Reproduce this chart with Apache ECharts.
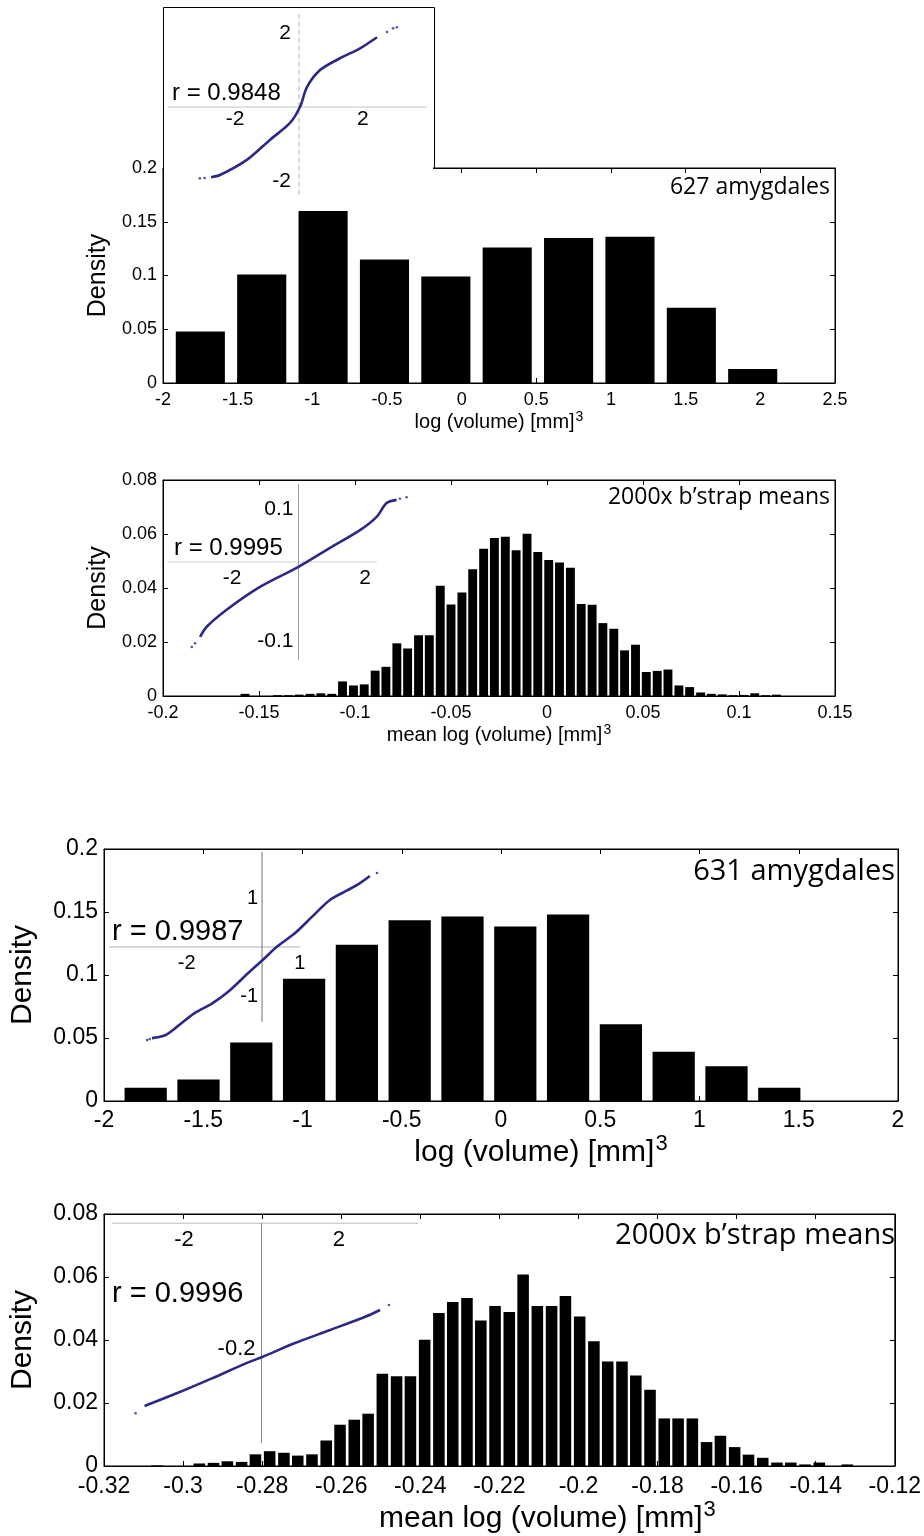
<!DOCTYPE html>
<html><head><meta charset="utf-8">
<script src="https://cdn.jsdelivr.net/npm/echarts@6/dist/echarts.min.js"></script>
<style>html,body{margin:0;padding:0;background:#fff}#c{width:924px;height:1536px}</style>
</head><body><div id="c"></div>
<script>
// ---------------- DATA ----------------
// Panel 1: 627 amygdales, log(volume) histogram
const p1Centers = [-1.75,-1.339,-0.928,-0.517,-0.106,0.305,0.716,1.127,1.538,1.949];
const p1Density = [0.048,0.101,0.160,0.115,0.099,0.126,0.135,0.136,0.070,0.013];
const p1BinWidth = 0.411;
// Panel 2: bootstrap means (627)
const p2Centers = [-0.1573,-0.1517,-0.1460,-0.1404,-0.1347,-0.1291,-0.1234,-0.1178,-0.1121,-0.1065,
  -0.1008,-0.0952,-0.0895,-0.0839,-0.0782,-0.0726,-0.0669,-0.0613,-0.0556,-0.0500,
  -0.0443,-0.0387,-0.0330,-0.0274,-0.0217,-0.0161,-0.0104,-0.0048,0.0009,0.0065,
  0.0122,0.0178,0.0235,0.0291,0.0348,0.0404,0.0461,0.0517,0.0574,0.0630,
  0.0687,0.0743,0.0800,0.0856,0.0913,0.0969,0.1026,0.1082,0.1139,0.1195];
const p2Density = [0.0008,0,0,0.0003,0.0003,0.0005,0.0008,0.001,0.0008,0.0054,
  0.0039,0.0043,0.0094,0.0108,0.0195,0.0176,0.0225,0.0225,0.0408,0.0339,
  0.0383,0.0469,0.0545,0.0585,0.059,0.054,0.0601,0.0533,0.0504,0.0494,
  0.0475,0.0341,0.0338,0.027,0.0249,0.0169,0.019,0.0089,0.0093,0.0098,
  0.0039,0.0033,0.0013,0.0008,0.0006,0.0003,0.0004,0.001,0.0003,0.0005];
const p2BinWidth = 0.00565;
// Panel 3: 631 amygdales
const p3Centers = [-1.79,-1.524,-1.258,-0.992,-0.726,-0.46,-0.194,0.072,0.338,0.604,0.87,1.136,1.402];
const p3Density = [0.0105,0.017,0.0465,0.097,0.124,0.1435,0.1465,0.1385,0.148,0.061,0.039,0.0275,0.0105];
const p3BinWidth = 0.266;
// Panel 4: bootstrap means (631)
const p4Centers = [-0.3066,-0.3030,-0.2995,-0.2959,-0.2923,-0.2888,-0.2852,-0.2817,-0.2781,-0.2745,
  -0.2710,-0.2674,-0.2638,-0.2603,-0.2567,-0.2532,-0.2496,-0.2460,-0.2425,-0.2389,
  -0.2353,-0.2318,-0.2282,-0.2247,-0.2211,-0.2175,-0.2140,-0.2104,-0.2068,-0.2033,
  -0.1997,-0.1961,-0.1926,-0.1890,-0.1855,-0.1819,-0.1783,-0.1748,-0.1712,-0.1676,
  -0.1641,-0.1605,-0.1570,-0.1534,-0.1498,-0.1463,-0.1427,-0.1391,-0.1356,-0.1320];
const p4Density = [0.0002,0,0,0.0008,0.001,0.0015,0.0013,0.0037,0.0047,0.0042,
  0.0033,0.0037,0.0081,0.0131,0.0147,0.0166,0.0293,0.0285,0.0285,0.0401,
  0.0486,0.0521,0.0533,0.0462,0.0508,0.0489,0.0608,0.0508,0.0508,0.054,
  0.0475,0.0396,0.0332,0.0332,0.0287,0.0242,0.0151,0.0151,0.0151,0.0076,
  0.0096,0.006,0.0036,0.0026,0.0011,0.0011,0.0005,0.0011,0,0.0005];
const p4BinWidth = 0.003563;

// Normal probability (Q-Q) insets: [normal quantile, sample value]
const qq1Line = [[-2.75,-1.90],[-2.47,-1.84],[-1.63,-1.43],[-0.91,-0.89],[-0.28,-0.43],[0.03,0.0],[0.25,0.54],[0.66,1.0],[1.28,1.32],[1.91,1.59],[2.44,1.89]];
const qq1Tail = [[-3.1,-1.93],[-2.95,-1.92],[2.75,2.03],[2.94,2.13],[3.06,2.16]];
const qq2Line = [[-2.96,-0.141],[-2.76,-0.122],[-2.16,-0.090],[-1.16,-0.047],[0.0,-0.009],[0.85,0.023],[1.85,0.060],[2.35,0.085],[2.65,0.111],[2.95,0.117]];
const qq2Tail = [[-3.21,-0.160],[-3.11,-0.153],[3.05,0.119],[3.25,0.122]];
const qq3Line = [[-2.92,-1.86],[-2.57,-1.80],[-2.26,-1.63],[-1.79,-1.35],[-1.32,-1.15],[-0.85,-0.88],[-0.38,-0.54],[0.01,-0.27],[0.40,0.01],[0.87,0.28],[1.33,0.62],[1.80,0.96],[2.27,1.16],[2.59,1.30],[2.86,1.45]];
const qq3Tail = [[-3.05,-1.90],[-2.98,-1.88],[3.05,1.51]];
const qq4Line = [[-3.02,-0.2911],[-2.19,-0.2709],[-1.28,-0.2471],[-0.36,-0.2222],[0.02,-0.2131],[0.85,-0.1914],[1.77,-0.1702],[2.68,-0.1491],[3.06,-0.1384]];
const qq4Tail = [[-3.25,-0.3027],[3.29,-0.1305]];

// Inset tick labels
const qq1XLabels = [-2, 2], qq1YLabels = [-2, 2];
const qq2XLabels = [-2, 2], qq2YLabels = [-0.1, 0.1];
const qq3XLabels = [-2, 1], qq3YLabels = [-1, 1];
const qq4XLabels = [-2, 2], qq4YLabels = [-0.2];

// Texts
const p1Note = '627 amygdales', p2Note = '2000x b\u2019strap means';
const p3Note = '631 amygdales', p4Note = '2000x b\u2019strap means';
const p1R = 'r = 0.9848', p2R = 'r = 0.9995', p3R = 'r = 0.9987', p4R = 'r = 0.9996';
const yName = 'Density';
const xName1 = 'log (volume) [mm]', xName2 = 'mean log (volume) [mm]', xSup = '3';

// ---------------- BUILD ----------------
const ARIAL = '"Liberation Sans", Arial, Helvetica, sans-serif';
const MYRIAD = '"Open Sans", "Noto Sans", sans-serif';
const QQ_COLOR = '#2a2a86';
const option = {animation:false, backgroundColor:'#fff', grid:[], xAxis:[], yAxis:[], series:[], title:[], graphic:[]};

function histItem(w){
  return function(params, api){
    const x = api.value(0), y = api.value(1);
    const a = api.coord([x - w/2, y]);
    const b = api.coord([x + w/2, 0]);
    return {type:'rect', shape:{x:a[0], y:a[1], width:b[0]-a[0], height:b[1]-a[1]}, style:{fill:'#000'}};
  };
}

function addPanel(c){
  const g = option.grid.length;
  option.grid.push({left:c.left, top:c.top, width:c.width, height:c.height, show:true, borderColor:'#000', borderWidth:1, z:0});
  const xi = option.xAxis.length, yi = option.yAxis.length;
  const tick = {inside:true, length:5, lineStyle:{color:'#000', width:1}};
  const line = {show:true, onZero:false, lineStyle:{color:'#000', width:1}};
  option.xAxis.push({gridIndex:g, type:'value', min:c.xMin, max:c.xMax, interval:c.xInt, position:'bottom',
    axisLine:line, axisTick:tick, splitLine:{show:false},
    axisLabel:{fontFamily:c.tickFont, fontSize:c.tickSize, color:'#000', margin:c.xMargin},
    name:'{b|'+c.xName+'}{s|'+xSup+'}', nameLocation:'middle', nameGap:c.xNameGap,
    nameTextStyle:{padding:c.xNamePad||0, rich:{b:{fontFamily:ARIAL, fontSize:c.xNameSize, color:'#000'},
      s:{fontFamily:ARIAL, fontSize:Math.round(c.xNameSize*0.72), color:'#000', padding:[0,0,Math.round(c.xNameSize*0.55),1]}}}});
  option.xAxis.push({gridIndex:g, type:'value', min:c.xMin, max:c.xMax, interval:c.xInt, position:'top',
    axisLine:line, axisTick:tick, axisLabel:{show:false}, splitLine:{show:false}});
  option.yAxis.push({gridIndex:g, type:'value', min:0, max:c.yMax, interval:c.yInt, position:'left',
    axisLine:line, axisTick:tick, splitLine:{show:false},
    axisLabel:{fontFamily:c.tickFont, fontSize:c.tickSize, color:'#000', margin:c.yMargin},
    name:yName, nameLocation:'middle', nameRotate:90, nameGap:c.yNameGap,
    nameTextStyle:{fontFamily:ARIAL, fontSize:c.yNameSize, color:'#000'}});
  option.yAxis.push({gridIndex:g, type:'value', min:0, max:c.yMax, interval:c.yInt, position:'right',
    axisLine:line, axisTick:tick, axisLabel:{show:false}, splitLine:{show:false}});
  option.series.push({type:'custom', xAxisIndex:xi, yAxisIndex:yi, renderItem:histItem(c.binW*c.barFrac),
    encode:{x:0, y:1}, data:c.centers.map((v,i)=>[v, c.density[i]]), z:2, clip:false});
}

function addInset(c){
  const g = option.grid.length;
  option.grid.push({left:c.left, top:c.top, width:c.width, height:c.height, show:!!c.bg,
    backgroundColor:c.bg||'transparent', borderWidth:0, z:1});
  const xi = option.xAxis.length, yi = option.yAxis.length;
  // place label rows on the zero lines of the inset
  const zeroY = c.top + c.height * c.yMax / (c.yMax - c.yMin);
  const zeroX = c.left + c.width * (-c.xMin) / (c.xMax - c.xMin);
  const yLab = {customValues:c.yLabels, fontFamily:ARIAL, fontSize:c.fs, color:'#000', margin:c.yMargin};
  if (c.negLabelDrop) {
    yLab.formatter = v => (v < 0 ? '{d|' + v + '}' : String(v));
    yLab.rich = {d:{fontFamily:ARIAL, fontSize:c.fs, color:'#000', padding:[c.negLabelDrop*2,0,0,0]}};
  }
  option.xAxis.push({gridIndex:g, type:'value', min:c.xMin, max:c.xMax, position:'bottom', z:3,
    offset: zeroY - (c.top + c.height),
    axisLine:{show:false, onZero:false}, axisTick:{show:false}, splitLine:{show:false},
    axisLabel:{customValues:c.xLabels, fontFamily:ARIAL, fontSize:c.fs, color:'#000', margin:c.xMargin}});
  option.yAxis.push({gridIndex:g, type:'value', min:c.yMin, max:c.yMax, position:'left', z:3,
    offset: c.left - zeroX,
    axisLine:{show:false, onZero:false}, axisTick:{show:false}, splitLine:{show:false},
    axisLabel:yLab});
  // zero reference lines of the normal plot
  option.series.push({type:'line', xAxisIndex:xi, yAxisIndex:yi, data:[[c.hx[0],0],[c.hx[1],0]], showSymbol:false,
    silent:true, z:3, lineStyle:{color:c.hColor, width:1}});
  option.series.push({type:'line', xAxisIndex:xi, yAxisIndex:yi, data:[[0,c.vy[0]],[0,c.vy[1]]], showSymbol:false,
    silent:true, z:3, lineStyle:{color:c.vColor, width:1, type:c.vType||'solid'}});
  option.series.push({type:'line', xAxisIndex:xi, yAxisIndex:yi, data:c.line, smooth:0.3, showSymbol:false,
    z:4, lineStyle:{color:QQ_COLOR, width:2.6}});
  option.series.push({type:'scatter', xAxisIndex:xi, yAxisIndex:yi, data:c.tail, symbolSize:2.6,
    z:4, itemStyle:{color:QQ_COLOR}});
}

function addText(t, pos, size, family){
  option.title.push(Object.assign({text:t, padding:0, textStyle:{fontFamily:family, fontSize:size, fontWeight:'normal', color:'#000'}}, pos));
}

// Panel 1
addPanel({left:163, top:168, width:672, height:215, xMin:-2, xMax:2.5, xInt:0.5, yMax:0.2, yInt:0.05,
  tickFont:ARIAL, tickSize:18, xMargin:8, yMargin:6, xName:xName1, xNameSize:20, xNameGap:11,
  yNameSize:25, yNameGap:52, centers:p1Centers, density:p1Density, binW:p1BinWidth, barFrac:0.8});
addInset({left:164, top:8, width:269, height:187, xMin:-4.22, xMax:4.19, yMin:-2.38, yMax:2.68,
  hx:[-4.1,4.0], vy:[-2.38,2.6], vType:[5,3],
  xLabels:qq1XLabels, yLabels:qq1YLabels, fs:21, xMargin:2, yMargin:8, hColor:'#c4c4c4', vColor:'#b4b4b4', bg:'#fff',
  line:qq1Line, tail:qq1Tail});
// Panel 2
addPanel({left:163, top:480, width:672, height:216, xMin:-0.2, xMax:0.15, xInt:0.05, yMax:0.08, yInt:0.02,
  tickFont:ARIAL, tickSize:18, xMargin:8, yMargin:6, xName:xName2, xNameSize:20, xNameGap:10,
  yNameSize:25, yNameGap:52, centers:p2Centers, density:p2Density, binW:p2BinWidth, barFrac:0.82});
addInset({left:167, top:484, width:250, height:176, xMin:-3.955, xMax:3.564, yMin:-0.1846, yMax:0.1469,
  hx:[-3.95,2.36], vy:[-0.1846,0.1469], negLabelDrop:26,
  xLabels:qq2XLabels, yLabels:qq2YLabels, fs:21, xMargin:6, yMargin:5, hColor:'#d0d0d0', vColor:'#a0a0a0',
  line:qq2Line, tail:qq2Tail});
// Panel 3
addPanel({left:102, top:849, width:796, height:252, xMin:-2, xMax:2, xInt:0.5, yMax:0.2, yInt:0.05,
  tickFont:ARIAL, tickSize:23, xMargin:8, yMargin:6, xName:xName1, xNameSize:30, xNameGap:22, xNamePad:[0,0,0,80],
  yNameSize:30, yNameGap:66, centers:p3Centers, density:p3Density, binW:p3BinWidth, barFrac:0.8});
addInset({left:109, top:852, width:271, height:193, xMin:-4.06, xMax:3.13, yMin:-2.0, yMax:1.94,
  hx:[-4.06,1.01], vy:[-1.53,1.94],
  xLabels:qq3XLabels, yLabels:qq3YLabels, fs:20, xMargin:6, yMargin:4, hColor:'#b0b0b0', vColor:'#707070',
  line:qq3Line, tail:qq3Tail});
// Panel 4
addPanel({left:103, top:1214, width:795, height:252, xMin:-0.32, xMax:-0.12, xInt:0.02, yMax:0.08, yInt:0.02,
  tickFont:ARIAL, tickSize:23, xMargin:9, yMargin:6, xName:xName2, xNameSize:30, xNameGap:22, xNamePad:[0,0,0,96],
  yNameSize:30, yNameGap:66, centers:p4Centers, density:p4Density, binW:p4BinWidth, barFrac:0.82});
addInset({left:112, top:1223, width:306, height:220, xMin:-3.86, xMax:4.04, yMin:-0.35, yMax:0,
  hx:[-3.86,4.04], vy:[-0.35,0],
  xLabels:qq4XLabels, yLabels:qq4YLabels, fs:22, xMargin:6, yMargin:6, hColor:'#a0a0a0', vColor:'#888888',
  line:qq4Line, tail:qq4Tail});

// Annotations
addText(p1Note, {right:94, top:176}, 23, MYRIAD);
addText(p1R, {left:172, top:81}, 24, ARIAL);
addText(p2Note, {right:94, top:486}, 23, MYRIAD);
addText(p2R, {left:174, top:536}, 24, ARIAL);
addText(p3Note, {right:29, top:857}, 29, MYRIAD);
addText(p3R, {left:112, top:917}, 29, ARIAL);
addText(p4Note, {right:29, top:1221}, 29, MYRIAD);
addText(p4R, {left:112, top:1279}, 29, ARIAL);

// Inset frame for panel 1 (top/left/right edges)
option.graphic.push({type:'polyline', z:10, silent:true, shape:{points:[[163.5,168],[163.5,7.5],[434.5,7.5],[434.5,168]]},
  style:{stroke:'#000', lineWidth:1, fill:null}});

const chart = echarts.init(document.getElementById('c'), null, {renderer:'canvas'});
chart.setOption(option);
</script></body></html>
